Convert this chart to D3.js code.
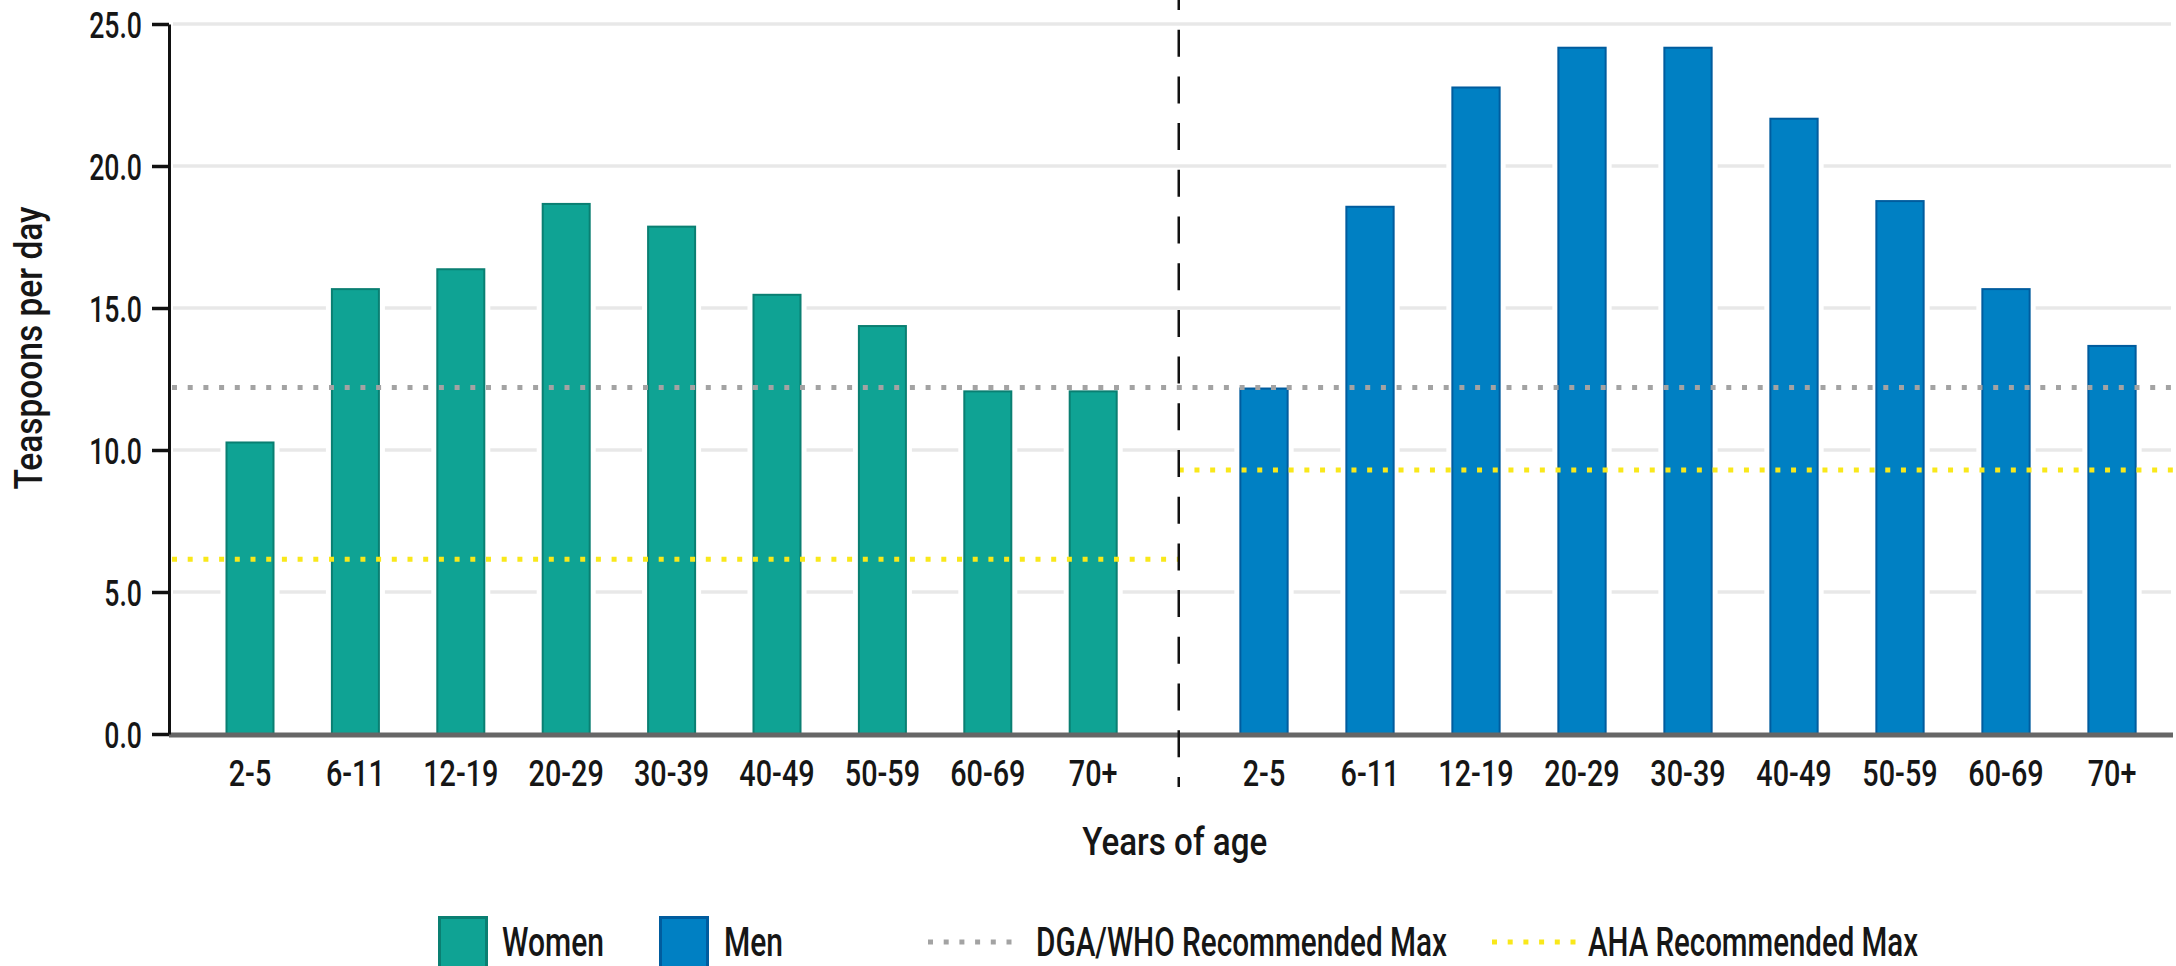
<!DOCTYPE html>
<html>
<head>
<meta charset="utf-8">
<script src="https://cdn.jsdelivr.net/npm/d3@7/dist/d3.min.js"></script>
<style>
  html, body { margin: 0; padding: 0; background: #ffffff; }
  svg { display: block; }
  text { font-family: Roboto, "Open Sans", "DejaVu Sans", sans-serif; font-weight: 500; fill: #161616; }
</style>
</head>
<body>
<svg id="chart" width="2176" height="966"></svg>
<script>
// Added sugars intake by age group and sex (teaspoons per day)
const womenAges = ["2-5", "6-11", "12-19", "20-29", "30-39", "40-49", "50-59", "60-69", "70+"];
const menAges = ["2-5", "6-11", "12-19", "20-29", "30-39", "40-49", "50-59", "60-69", "70+"];
const womenValues = [10.3, 15.7, 16.4, 18.7, 17.9, 15.5, 14.4, 12.1, 12.1];
const menValues = [12.2, 18.6, 22.8, 24.2, 24.2, 21.7, 18.8, 15.7, 13.7];
const yTicks = [0, 5, 10, 15, 20, 25];
const dgaWhoMax = 12.2;
const ahaWomenMax = 6.15;
const ahaMenMax = 9.3;
const legendLabels = ["Women", "Men", "DGA/WHO Recommended Max", "AHA Recommended Max"];

const colors = {
  women: "#0fa394", womenEdge: "#0a7f72",
  men: "#0080c3", menEdge: "#005c9e",
  grid: "#e8e8e8", dga: "#a3a3a3", aha: "#f9e81a"
};

const svg = d3.select("#chart");
const plotLeft = 169, plotRight = 2173;

// squeeze a text run horizontally to a given width (condensed lettering)
function fitWidth(sel, width) {
  sel.attr("textLength", width).attr("lengthAdjust", "spacingAndGlyphs");
}
// squeeze a group of labels by a common factor
function condense(sel, factor) {
  sel.each(function () {
    const w = this.getComputedTextLength();
    d3.select(this).attr("textLength", w * factor).attr("lengthAdjust", "spacingAndGlyphs");
  });
}

const y = d3.scaleLinear().domain([0, 25]).range([734, 24]);

const xWomen = d3.scaleBand().domain(womenAges.map((d, i) => "w" + i))
  .range([197.3, 1145.9]).paddingInner(0.535).paddingOuter(0.2675);
const xMen = d3.scaleBand().domain(menAges.map((d, i) => "m" + i))
  .range([1211, 2165]).paddingInner(0.535).paddingOuter(0.2675);

const dividerX = (xWomen.range()[1] + xMen.range()[0]) / 2 + 0.3;

// horizontal gridlines
svg.append("g").selectAll("line").data(yTicks.filter(t => t > 0)).join("line")
  .attr("x1", plotLeft + 4).attr("x2", plotRight - 2)
  .attr("y1", d => y(d)).attr("y2", d => y(d))
  .attr("stroke", colors.grid).attr("stroke-width", 3.5);

// bars, each with a thin white halo that interrupts the gridlines
function drawBars(scale, keys, values, fill, edge) {
  const g = svg.append("g");
  const data = values.map((v, i) => ({ k: keys[i], v }));
  g.selectAll("rect.halo").data(data).join("rect").attr("class", "halo")
    .attr("x", d => scale(d.k) - 5).attr("width", scale.bandwidth() + 10)
    .attr("y", d => y(d.v) - 4).attr("height", d => y(0) - y(d.v) + 4)
    .attr("fill", "#ffffff");
  g.selectAll("rect.bar").data(data).join("rect").attr("class", "bar")
    .attr("x", d => scale(d.k) + 1).attr("width", scale.bandwidth() - 2)
    .attr("y", d => y(d.v) + 1).attr("height", d => y(0) - y(d.v) - 1)
    .attr("fill", fill).attr("stroke", edge).attr("stroke-width", 2);
}
drawBars(xWomen, xWomen.domain(), womenValues, colors.women, colors.womenEdge);
drawBars(xMen, xMen.domain(), menValues, colors.men, colors.menEdge);

// baseline
svg.append("line").attr("x1", plotLeft).attr("x2", plotRight)
  .attr("y1", y(0) + 1).attr("y2", y(0) + 1)
  .attr("stroke", "#666666").attr("stroke-width", 5);

// recommended maximum reference lines
function dotted(x1, x2, v, color) {
  svg.append("line").attr("x1", x1).attr("x2", x2)
    .attr("y1", y(v)).attr("y2", y(v))
    .attr("stroke", color).attr("stroke-width", 5)
    .attr("stroke-dasharray", "5 10.7");
}
dotted(plotLeft + 3, plotRight, dgaWhoMax, colors.dga);
dotted(plotLeft + 3, dividerX, ahaWomenMax, colors.aha);
dotted(dividerX, plotRight, ahaMenMax, colors.aha);

// divider between women and men
svg.append("line").attr("x1", dividerX).attr("x2", dividerX)
  .attr("y1", 0).attr("y2", 787)
  .attr("stroke", "#111111").attr("stroke-width", 2.5)
  .attr("stroke-dasharray", "27 19.7").attr("stroke-dashoffset", 17);

// y axis
const yAxis = d3.axisLeft(y).tickValues(yTicks).tickFormat(d3.format(".1f"))
  .tickSize(17).tickSizeOuter(0).tickPadding(10);
const gy = svg.append("g").attr("transform", `translate(${plotLeft},0)`).call(yAxis);
gy.select(".domain").attr("stroke", "#111").attr("stroke-width", 3);
gy.selectAll(".tick line").attr("stroke", "#111").attr("stroke-width", 3.5);
gy.selectAll(".tick text").attr("font-size", 37).attr("dy", "0.36em")
  .attr("font-family", null).style("fill", "#161616").call(condense, 0.72);

// x axis labels for both groups
function xLabels(scale, labels) {
  const ax = d3.axisBottom(scale).tickSize(0).tickPadding(0)
    .tickFormat((d, i) => labels[i]);
  const g = svg.append("g").attr("transform", `translate(0,${y(0)})`).call(ax);
  g.select(".domain").remove();
  g.selectAll(".tick text").attr("font-size", 36).attr("y", 52).attr("dy", 0)
    .attr("font-family", null).style("fill", "#161616").call(condense, 0.8);
}
xLabels(xWomen, womenAges);
xLabels(xMen, menAges);

// axis titles
svg.append("text").attr("x", dividerX - 4).attr("y", 855)
  .attr("text-anchor", "middle").attr("font-size", 39).text("Years of age").call(fitWidth, 185);
svg.append("text").attr("transform", "translate(42,348) rotate(-90)")
  .attr("text-anchor", "middle").attr("font-size", 39).text("Teaspoons per day").call(fitWidth, 283);

// legend
const legendBaseline = 956;
const legendFont = 40;
const legend = svg.append("g");
legend.append("rect").attr("x", 439.5).attr("y", 917.5).attr("width", 47).attr("height", 51)
  .attr("fill", colors.women).attr("stroke", colors.womenEdge).attr("stroke-width", 3);
legend.append("text").attr("x", 502).attr("y", legendBaseline).attr("font-size", legendFont).text(legendLabels[0]).call(fitWidth, 102);
legend.append("rect").attr("x", 660.5).attr("y", 917.5).attr("width", 47).attr("height", 51)
  .attr("fill", colors.men).attr("stroke", colors.menEdge).attr("stroke-width", 3);
legend.append("text").attr("x", 724).attr("y", legendBaseline).attr("font-size", legendFont).text(legendLabels[1]).call(fitWidth, 59);
legend.append("line").attr("x1", 928).attr("x2", 1012).attr("y1", 942).attr("y2", 942)
  .attr("stroke", colors.dga).attr("stroke-width", 5).attr("stroke-dasharray", "5 10.7");
legend.append("text").attr("x", 1036).attr("y", legendBaseline).attr("font-size", legendFont).text(legendLabels[2]).call(fitWidth, 411);
legend.append("line").attr("x1", 1492).attr("x2", 1576).attr("y1", 942).attr("y2", 942)
  .attr("stroke", colors.aha).attr("stroke-width", 5).attr("stroke-dasharray", "5 10.7");
legend.append("text").attr("x", 1588).attr("y", legendBaseline).attr("font-size", legendFont).text(legendLabels[3]).call(fitWidth, 330);
</script>
</body>
</html>
